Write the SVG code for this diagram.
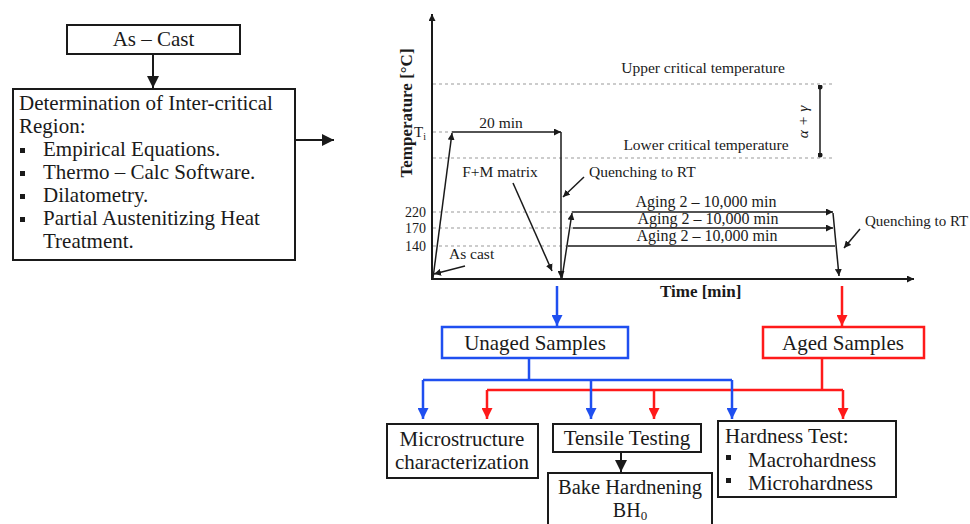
<svg xmlns="http://www.w3.org/2000/svg" width="970" height="524" viewBox="0 0 970 524">
<style>
text{font-family:"Liberation Serif","Times New Roman",serif;fill:#1a1a1a}
.big{font-size:21px}
.sm{font-size:15.5px}
.bold{font-size:17px;font-weight:bold}
.box{fill:#fff;stroke:#1a1a1a;stroke-width:2}
.ln{stroke:#1a1a1a;stroke-width:2;fill:none}
.thin{stroke:#1a1a1a;stroke-width:1.5;fill:none}
.dot{stroke:#999;stroke-width:1;stroke-dasharray:3 3;fill:none}
.blue{stroke:#1f4ff0;stroke-width:2.5;fill:none}
.red{stroke:#ff1a1a;stroke-width:2.5;fill:none}
</style>
<defs>
<marker id="ak" markerUnits="userSpaceOnUse" markerWidth="12" markerHeight="12" refX="10" refY="5" orient="auto" viewBox="0 0 10 10"><path d="M0,0 L10,5 L0,10 z" fill="#1a1a1a"/></marker>
<marker id="as" markerUnits="userSpaceOnUse" markerWidth="7" markerHeight="7" refX="10" refY="5" orient="auto" viewBox="0 0 10 10"><path d="M0,0 L10,5 L0,10 z" fill="#1a1a1a"/></marker>
<marker id="ab" markerUnits="userSpaceOnUse" markerWidth="11" markerHeight="11" refX="10" refY="5" orient="auto" viewBox="0 0 10 10"><path d="M0,0 L10,5 L0,10 z" fill="#1f4ff0"/></marker>
<marker id="ar" markerUnits="userSpaceOnUse" markerWidth="11" markerHeight="11" refX="10" refY="5" orient="auto" viewBox="0 0 10 10"><path d="M0,0 L10,5 L0,10 z" fill="#ff1a1a"/></marker>
<marker id="dotm" markerUnits="userSpaceOnUse" markerWidth="5" markerHeight="5" refX="5" refY="5" viewBox="0 0 10 10"><circle cx="5" cy="5" r="5" fill="#1a1a1a"/></marker>
</defs>

<g id="as-cast">
<rect class="box" x="67" y="25" width="173" height="29"/>
<text class="big" x="153.5" y="46" text-anchor="middle">As – Cast</text>
</g>

<g id="determination">
<rect class="box" x="13" y="89" width="282" height="171"/>
<text class="big" x="19" y="110">Determination of Inter-critical</text>
<text class="big" x="19" y="133">Region:</text>
<rect x="20" y="148" width="5" height="5" fill="#1a1a1a"/>
<text class="big" x="43" y="156">Empirical Equations.</text>
<rect x="20" y="171" width="5" height="5" fill="#1a1a1a"/>
<text class="big" x="43" y="179">Thermo – Calc Software.</text>
<rect x="20" y="194" width="5" height="5" fill="#1a1a1a"/>
<text class="big" x="43" y="202">Dilatometry.</text>
<rect x="20" y="217" width="5" height="5" fill="#1a1a1a"/>
<text class="big" x="43" y="225">Partial Austenitizing Heat</text>
<text class="big" x="43" y="248">Treatment.</text>
</g>

<g id="chart">
<line class="ln" x1="432" y1="280" x2="432" y2="14" marker-end="url(#as)"/>
<line class="ln" x1="431" y1="279" x2="914" y2="279" marker-end="url(#as)"/>
<line class="dot" x1="433" y1="84" x2="833" y2="84"/>
<line class="dot" x1="433" y1="132" x2="452" y2="132"/>
<line class="dot" x1="433" y1="158" x2="833" y2="158"/>
<line class="dot" x1="433" y1="212" x2="572" y2="212"/>
<line class="dot" x1="433" y1="228" x2="573" y2="228"/>
<line class="dot" x1="433" y1="246" x2="568" y2="246"/>
<text class="bold" transform="translate(412,113) rotate(-90)" text-anchor="middle">Temperature [°C]</text>
<text class="bold" x="660" y="297">Time [min]</text>
<text style="font-size:15px" x="414" y="137">T<tspan dy="3" style="font-size:10px">i</tspan></text>
<text style="font-size:14px" x="426" y="217" text-anchor="end">220</text>
<text style="font-size:14px" x="426" y="233" text-anchor="end">170</text>
<text style="font-size:14px" x="426" y="251" text-anchor="end">140</text>
<line class="thin" x1="433" y1="278" x2="452" y2="133" marker-end="url(#as)"/>
<line class="thin" x1="452" y1="132" x2="561" y2="132" marker-end="url(#as)"/>
<line class="thin" x1="561" y1="132" x2="561" y2="278" marker-end="url(#as)"/>
<line class="thin" x1="562" y1="278" x2="572" y2="213" marker-end="url(#as)"/>
<line class="thin" x1="572" y1="212" x2="833" y2="212" marker-end="url(#as)"/>
<line class="thin" x1="573" y1="228" x2="833" y2="228" marker-end="url(#as)"/>
<line class="thin" x1="568" y1="246" x2="835" y2="246"/>
<line class="thin" x1="833" y1="213" x2="839" y2="276" marker-end="url(#as)"/>
<line class="thin" x1="465" y1="266" x2="434" y2="274" marker-end="url(#as)"/>
<line class="thin" x1="513" y1="183" x2="552" y2="271" marker-end="url(#as)"/>
<line class="thin" x1="584" y1="177" x2="563" y2="197" marker-end="url(#as)"/>
<line class="thin" x1="860" y1="229" x2="844" y2="248" marker-end="url(#as)"/>
<line class="thin" x1="820" y1="87" x2="820" y2="155" marker-start="url(#dotm)" marker-end="url(#dotm)"/>
<text class="sm" x="703" y="73" text-anchor="middle">Upper critical temperature</text>
<text class="sm" x="706" y="150" text-anchor="middle">Lower critical temperature</text>
<text class="sm" transform="translate(808,122) rotate(-90)" text-anchor="middle" font-style="italic">α + γ</text>
<text class="sm" x="501" y="128" text-anchor="middle">20 min</text>
<text class="sm" x="500" y="177" text-anchor="middle">F+M matrix</text>
<text class="sm" x="589" y="177">Quenching to RT</text>
<text class="sm" x="449" y="259">As cast</text>
<text style="font-size:16px" x="706" y="207" text-anchor="middle">Aging 2 – 10,000 min</text>
<text style="font-size:16px" x="708" y="224" text-anchor="middle">Aging 2 – 10,000 min</text>
<text style="font-size:16px" x="707" y="241" text-anchor="middle">Aging 2 – 10,000 min</text>
<text style="font-size:15px" x="865" y="226">Quenching to RT</text>
</g>

<g id="unaged">
<rect x="442" y="327" width="186" height="31" fill="#fff" stroke="#1f4ff0" stroke-width="2.5"/>
<text class="big" x="535" y="350" text-anchor="middle">Unaged Samples</text>
</g>
<g id="aged">
<rect x="763" y="327" width="161" height="31" fill="#fff" stroke="#ff1a1a" stroke-width="2.5"/>
<text class="big" x="843" y="350" text-anchor="middle">Aged Samples</text>
</g>
<g id="microstructure">
<rect class="box" x="387" y="424" width="151" height="54"/>
<text class="big" x="462" y="446" text-anchor="middle">Microstructure</text>
<text class="big" x="462" y="469" text-anchor="middle">characterization</text>
</g>
<g id="tensile">
<rect class="box" x="553" y="424" width="148" height="28"/>
<text class="big" x="627" y="445" text-anchor="middle">Tensile Testing</text>
</g>
<g id="bake">
<rect class="box" x="548" y="473" width="164" height="60"/>
<text style="font-size:20.5px" x="630" y="494" text-anchor="middle">Bake Hardnening</text>
<text style="font-size:20px" x="630" y="517" text-anchor="middle">BH<tspan dy="3" style="font-size:13px">0</tspan></text>
</g>
<g id="hardness">
<rect class="box" x="718" y="421" width="178" height="76"/>
<text class="big" x="725" y="443">Hardness Test:</text>
<rect x="726" y="455" width="5" height="5" fill="#1a1a1a"/>
<text class="big" x="748" y="467">Macrohardness</text>
<rect x="726" y="478" width="5" height="5" fill="#1a1a1a"/>
<text class="big" x="748" y="490">Microhardness</text>
</g>

<g id="connectors">
<line class="ln" x1="153" y1="54" x2="153" y2="88" marker-end="url(#ak)"/>
<line class="ln" x1="295" y1="140" x2="334" y2="140" marker-end="url(#ak)"/>
<line class="blue" x1="557" y1="286" x2="557" y2="326" marker-end="url(#ab)"/>
<line class="red" x1="842" y1="286" x2="842" y2="326" marker-end="url(#ar)"/>
<path class="red" d="M822,358 V390"/>
<path class="red" d="M487,390 H843"/>
<path class="red" d="M487,390 V419" marker-end="url(#ar)"/>
<path class="red" d="M654,390 V419" marker-end="url(#ar)"/>
<path class="red" d="M843,390 V419" marker-end="url(#ar)"/>
<path class="blue" d="M529,358 V380"/>
<path class="blue" d="M423,380 H732"/>
<path class="blue" d="M423,380 V419" marker-end="url(#ab)"/>
<path class="blue" d="M591,380 V419" marker-end="url(#ab)"/>
<path class="blue" d="M732,380 V419" marker-end="url(#ab)"/>
<line class="ln" x1="621" y1="452" x2="621" y2="472" marker-end="url(#ak)"/>
</g>
</svg>
